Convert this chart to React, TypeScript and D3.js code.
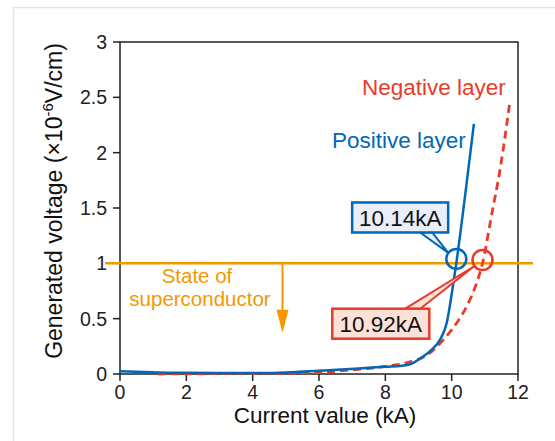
import React from 'react'
import * as d3 from 'd3'

// Positive layer (solid blue): [current kA, voltage x1e-6 V/cm]
const positiveLayer: [number, number][] = [
  [0, 0.025], [0.5, 0.02], [1.5, 0.012], [3, 0.01], [4.5, 0.01], [5.4, 0.02],
  [6.4, 0.036], [7.2, 0.05], [8.0, 0.066], [8.5, 0.075], [8.75, 0.088],
  [9.1, 0.15], [9.4, 0.22], [9.65, 0.31], [9.85, 0.46], [10.0, 0.72],
  [10.14, 1.0], [10.4, 1.6], [10.67, 2.26],
]

// Negative layer (dashed red)
const negativeLayer: [number, number][] = [
  [1.15, 0.0], [3, 0.003], [5, 0.006], [5.93, 0.012], [6.93, 0.036],
  [7.93, 0.066], [8.74, 0.11], [9.25, 0.17], [9.75, 0.31], [10.15, 0.46],
  [10.45, 0.61], [10.75, 0.82], [10.93, 1.0], [11.2, 1.43], [11.46, 1.85],
  [11.76, 2.47],
]

const xTicks = [0, 2, 4, 6, 8, 10, 12]
const yTicks = [0, 0.5, 1, 1.5, 2, 2.5, 3]

const threshold = 1
const arrowAt = 4.9
const positiveCrossing = { x: 10.14, y: 1.04, label: '10.14kA' }
const negativeCrossing = { x: 10.93, y: 1.03, label: '10.92kA' }

const BLUE = '#0068b7'
const RED = '#e83c2a'
const ORANGE = '#f39800'
const FONT = '"Liberation Sans", Arial, Helvetica, sans-serif'

export default function App() {
  const width = 555
  const height = 441

  const x = d3.scaleLinear().domain([0, 12]).range([120, 518])
  const y = d3.scaleLinear().domain([0, 3]).range([374, 42])

  const line = d3.line<[number, number]>()
    .x(d => x(d[0]))
    .y(d => y(d[1]))
    .curve(d3.curveMonotoneX)

  const [x0, x1] = x.range()
  const [yb, yt] = y.range()

  // callout boxes (pixel sizes, anchored to data positions)
  const blueBox = { x: x(7.0), y: y(1.55), w: 96, h: 30 }
  const redBox = { x: x(6.4), y: y(0.59), w: 97, h: 30 }

  const bc = { cx: x(positiveCrossing.x), cy: y(positiveCrossing.y) }
  const rc = { cx: x(negativeCrossing.x), cy: y(negativeCrossing.y) }

  const blueTail = `M${blueBox.x + 68},${blueBox.y + blueBox.h} L${bc.cx - 8},${bc.cy - 6} L${blueBox.x + 80},${blueBox.y + blueBox.h} Z`
  const redTail = `M${redBox.x + 73},${redBox.y} L${rc.cx - 8},${rc.cy + 6} L${redBox.x + 88},${redBox.y} Z`

  const ax = x(arrowAt)
  const headTop = y(0.58)
  const headBottom = y(0.37)

  return (
    <svg width={width} height={height} style={{ position: 'absolute', left: 0, top: 0, fontFamily: FONT }}>
      <rect width={width} height={height} fill="#fff" />
      {/* panel border */}
      <path d={`M13.5,${height} V7.5 H${width}`} fill="none" stroke="#dbe5ec" strokeWidth={1.5} />

      {/* frame */}
      <rect x={x0} y={yt} width={x1 - x0} height={yb - yt} fill="none" stroke="#222" strokeWidth={1.5} />

      {/* y ticks */}
      {yTicks.map(t => (
        <g key={t}>
          <line x1={x0 - 7} x2={x0} y1={y(t)} y2={y(t)} stroke="#222" strokeWidth={1.5} />
          <text x={x0 - 13} y={y(t)} dy="0.36em" textAnchor="end" fontSize={19.5} fill="#222">{t}</text>
        </g>
      ))}
      {/* x ticks */}
      {xTicks.map(t => (
        <g key={t}>
          <line x1={x(t)} x2={x(t)} y1={yb} y2={yb + 7} stroke="#222" strokeWidth={1.5} />
          <text x={x(t)} y={yb + 25} textAnchor="middle" fontSize={19.5} fill="#222">{t}</text>
        </g>
      ))}

      <text x={(x0 + x1) / 2 + 6} y={423} textAnchor="middle" fontSize={22.5} fill="#111">Current value (kA)</text>
      <text transform={`translate(62,201) rotate(-90)`} textAnchor="middle" fontSize={23} fill="#111">
        Generated voltage (×10<tspan fontSize={15} dy={-9}>-6</tspan><tspan dy={9}>V/cm)</tspan>
      </text>

      {/* threshold line and arrow */}
      <line x1={105} x2={533} y1={y(threshold)} y2={y(threshold)} stroke={ORANGE} strokeWidth={2.5} />
      <line x1={ax} x2={ax} y1={y(threshold)} y2={headTop + 1} stroke={ORANGE} strokeWidth={2} />
      <path d={`M${ax - 6},${headTop} L${ax + 6},${headTop} L${ax},${headBottom} Z`} fill={ORANGE} />
      <text textAnchor="middle" fontSize={20.5} fill={ORANGE}>
        <tspan x={197} y={282.5}>State of</tspan>
        <tspan x={200} y={305.5}>superconductor</tspan>
      </text>

      {/* curves */}
      <path d={line(negativeLayer) || ''} fill="none" stroke={RED} strokeWidth={2.8} strokeDasharray="8,5" />
      <path d={line(positiveLayer) || ''} fill="none" stroke={BLUE} strokeWidth={2.5} />

      <text x={332} y={148} fontSize={22.5} fill={BLUE}>Positive layer</text>
      <text x={362} y={95} fontSize={22.5} fill={RED}>Negative layer</text>

      {/* crossing markers */}
      <circle cx={bc.cx} cy={bc.cy} r={10} fill="none" stroke={BLUE} strokeWidth={2.5} />
      <circle cx={rc.cx} cy={rc.cy} r={10} fill="none" stroke={RED} strokeWidth={2.5} />

      {/* callouts */}
      <path d={blueTail} fill="#e9eef8" stroke={BLUE} strokeWidth={2} strokeLinejoin="round" />
      <rect x={blueBox.x} y={blueBox.y} width={blueBox.w} height={blueBox.h} fill="#e9eef8" stroke={BLUE} strokeWidth={2.5} />
      <text x={blueBox.x + blueBox.w / 2} y={blueBox.y + blueBox.h / 2} dy="0.36em" textAnchor="middle" fontSize={22.5} fill="#111">{positiveCrossing.label}</text>

      <path d={redTail} fill="#fbe1d8" stroke={RED} strokeWidth={2} strokeLinejoin="round" />
      <rect x={redBox.x} y={redBox.y} width={redBox.w} height={redBox.h} fill="#fbe1d8" stroke={RED} strokeWidth={2.5} />
      <text x={redBox.x + redBox.w / 2} y={redBox.y + redBox.h / 2} dy="0.36em" textAnchor="middle" fontSize={22.5} fill="#111">{negativeCrossing.label}</text>
    </svg>
  )
}
